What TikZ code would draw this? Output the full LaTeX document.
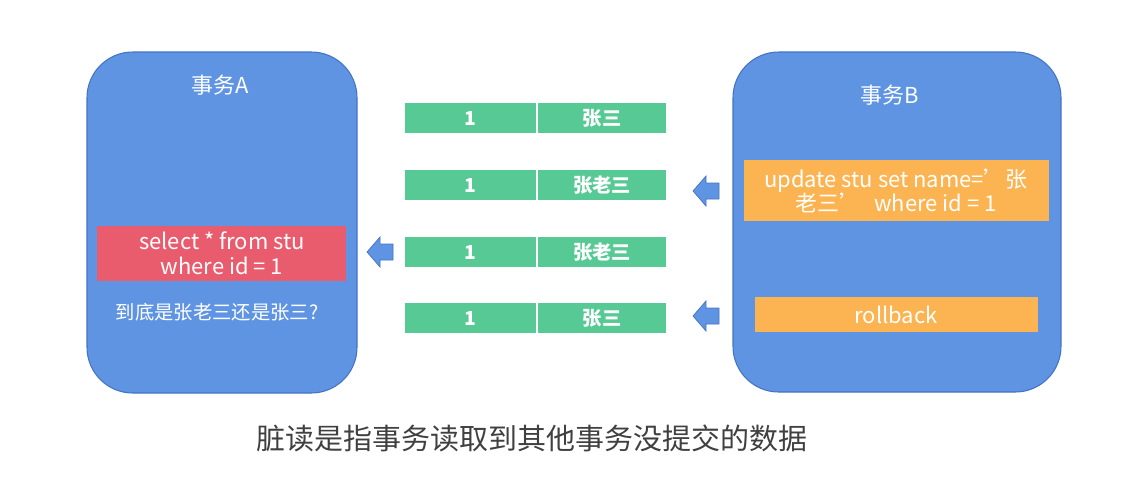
\documentclass[tikz,border=0pt]{standalone}
\usepackage{fontspec}
\setmainfont{Noto Sans CJK SC}
\definecolor{txblue}{HTML}{5F94E3}
\definecolor{txedge}{HTML}{4472C4}
\definecolor{rowgreen}{HTML}{57C994}
\definecolor{sqlred}{HTML}{E95C6D}
\definecolor{sqlorange}{HTML}{FBB451}
\tikzset{
  txbox/.style={draw=txedge,fill=txblue,rounded corners=26pt,line width=0.6pt},
  cell/.style={fill=rowgreen,draw=white,line width=0.8pt,text=white,font=\bfseries\fontsize{11}{13}\selectfont},
  sqlbox/.style={text=white,align=center,font=\fontsize{12.5}{14}\selectfont},
  leftarrow/.pic={
    \draw[fill=txblue,draw=txedge,line width=0.4pt]
      (-13,0) -- (0,-15) -- (0,-8) -- (13,-8) -- (13,8) -- (0,8) -- (0,15) -- cycle;
  }
}
\begin{document}
\begin{tikzpicture}[x=0.02cm,y=-0.02cm]
\useasboundingbox (0,0) rectangle (1125,481);

% TRANSACTIONS
% transaction A
\draw[txbox] (87,52) rectangle (357,393);
\node[text=white,font=\fontsize{12.5}{14}\selectfont] (titleA) at (220,85) {事务A};
\fill[sqlred] (97,226) rectangle (346,281);
\node[sqlbox] (selA) at (222,253) {select * from stu\\where id = 1};
\node[text=white,font=\fontsize{11}{14}\selectfont] (askA) at (217,312) {到底是张老三还是张三?};

% transaction B
\draw[txbox] (733,52) rectangle (1061,392);
\node[text=white,font=\fontsize{12.5}{14}\selectfont] (titleB) at (890,95) {事务B};
\fill[sqlorange] (744,160) rectangle (1049,221);
\node[sqlbox] (updB) at (896,191) {update stu set name=’张\\老三’\hspace{0.6em}where id = 1};
\fill[sqlorange] (755,297) rectangle (1038,332);
\node[sqlbox] (rollB) at (896,315) {rollback};

% ROWS
\foreach \y/\name [count=\i] in {118/张三,185/张老三,252/张老三,318/张三}{
  \node[cell,minimum width=133*0.02cm,minimum height=32*0.02cm] (id\i) at (470.5,\y) {1};
  \node[cell,minimum width=130*0.02cm,minimum height=32*0.02cm] (nm\i) at (602,\y) {\name};
}

% ARROWS
\pic (toA) at (380,252) {leftarrow};
\pic (fromUpd) at (706,191) {leftarrow};
\pic (fromRoll) at (706,316) {leftarrow};

% CAPTION
\node[text=black!75,font=\fontsize{16.5}{19}\selectfont] (cap) at (532,438) {脏读是指事务读取到其他事务没提交的数据};
\end{tikzpicture}
\end{document}
